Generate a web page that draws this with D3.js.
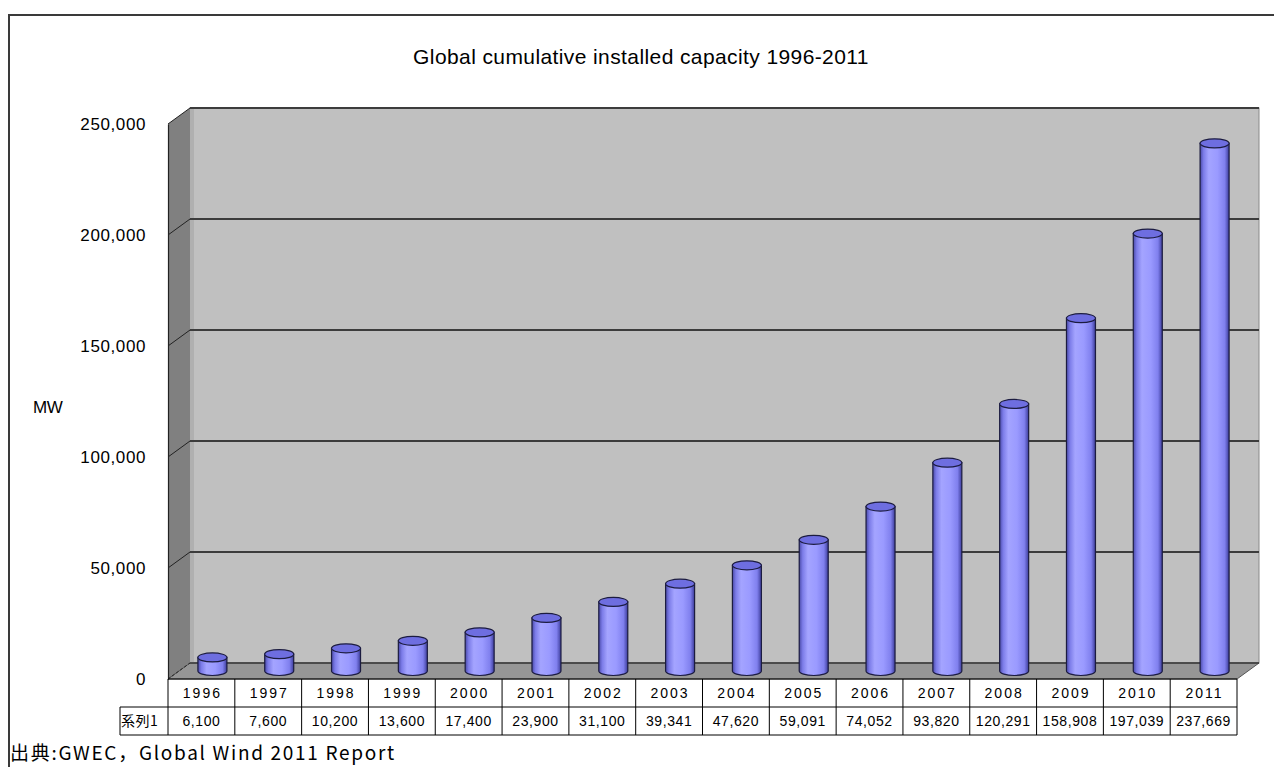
<!DOCTYPE html>
<html>
<head>
<meta charset="utf-8">
<script src="https://cdn.jsdelivr.net/npm/d3@7"></script>
<style>
  html, body { margin: 0; padding: 0; background: #fff; }
  svg { display: block; }
</style>
</head>
<body>
<div id="chart"></div>
<script>
// Global cumulative installed wind capacity (MW), GWEC Global Wind 2011 Report
var years = ["1996", "1997", "1998", "1999", "2000", "2001", "2002", "2003",
             "2004", "2005", "2006", "2007", "2008", "2009", "2010", "2011"];
var capacityMW = [6100, 7600, 10200, 13600, 17400, 23900, 31100, 39341,
                  47620, 59091, 74052, 93820, 120291, 158908, 197039, 237669];
var seriesName = "系列1";
var yTicks = [0, 50000, 100000, 150000, 200000, 250000];
var titleText = "Global cumulative installed capacity 1996-2011";
var yLabel = "MW";
var sourceText = "出典:GWEC，Global Wind 2011 Report";

(function () {
  var W = 1274, H = 767;
  var latin = "'Liberation Sans', Arial, sans-serif";
  var cjk = "'Noto Sans CJK JP', 'Liberation Sans', sans-serif";

  // front plane of the 3D box + depth offset of the back wall
  var fx0 = 168, fx1 = 1237, fy0 = 679, fyTop = 124;
  var dx = 22, dy = -16;

  var svg = d3.select("#chart").append("svg").attr("width", W).attr("height", H);

  // outer chart-area frame (runs off the right/bottom of the picture)
  svg.append("path").attr("d", "M9," + (H + 5) + "V15H" + (W + 5))
    .attr("fill", "none").attr("stroke", "#3a3a3a").attr("stroke-width", 2);

  svg.append("text").attr("x", 641).attr("y", 64).attr("text-anchor", "middle")
    .attr("font-family", latin).attr("font-size", "21px").attr("letter-spacing", "0.4px")
    .attr("fill", "#000").text(titleText);

  var x = d3.scaleBand().domain(years).range([fx0, fx1]).padding(0);
  var y = d3.scaleLinear().domain([0, 250000]).range([fy0, fyTop]);

  var defs = svg.append("defs");
  var grad = defs.append("linearGradient").attr("id", "cyl").attr("x1", 0).attr("x2", 1).attr("y1", 0).attr("y2", 0);
  [[0, "#4a4aa8"], [0.12, "#7c7ce8"], [0.3, "#a4a4ff"], [0.6, "#9a9aff"], [0.85, "#8080ee"], [1, "#3c3c9a"]]
    .forEach(function (s) { grad.append("stop").attr("offset", s[0]).attr("stop-color", s[1]); });

  var g = svg.append("g");

  // back wall
  g.append("rect").attr("x", fx0 + dx).attr("y", y(250000) + dy)
    .attr("width", fx1 - fx0).attr("height", y(0) - y(250000))
    .attr("fill", "#c0c0c0").attr("stroke", "#8a8a8a").attr("stroke-width", 1);
  g.append("rect").attr("x", fx0 + dx).attr("y", y(250000) + dy)
    .attr("width", 4).attr("height", y(0) - y(250000)).attr("fill", "#b0b0b0");
  // left side wall
  g.append("path")
    .attr("d", "M" + fx0 + "," + y(250000) + "L" + (fx0 + dx) + "," + (y(250000) + dy) +
      "L" + (fx0 + dx) + "," + (y(0) + dy) + "L" + fx0 + "," + y(0) + "Z")
    .attr("fill", "#808080");
  // floor
  g.append("path")
    .attr("d", "M" + fx0 + "," + y(0) + "L" + (fx0 + dx) + "," + (y(0) + dy) +
      "L" + (fx1 + dx) + "," + (y(0) + dy) + "L" + fx1 + "," + y(0) + "Z")
    .attr("fill", "#969696").attr("stroke", "#555").attr("stroke-width", 1);

  // gridlines on back wall + diagonals on side wall
  yTicks.forEach(function (t) {
    var yy = y(t);
    if (t > 0) {
      g.append("line").attr("x1", fx0 + dx).attr("x2", fx1 + dx).attr("y1", yy + dy).attr("y2", yy + dy)
        .attr("stroke", "#3c3c3c").attr("stroke-width", 2);
    }
    g.append("line").attr("x1", fx0).attr("y1", yy).attr("x2", fx0 + dx).attr("y2", yy + dy)
      .attr("stroke", "#222").attr("stroke-width", 1)
      .attr("stroke-dasharray", t === 0 ? "3,2" : null);
  });
  g.append("line").attr("x1", fx0 + dx).attr("x2", fx1 + dx).attr("y1", y(0) + dy).attr("y2", y(0) + dy)
    .attr("stroke", "#3c3c3c").attr("stroke-width", 1.5);

  // value axis
  var yAxis = d3.axisLeft(y).tickValues(yTicks).tickSize(0).tickPadding(22).tickFormat(d3.format(","));
  var ya = g.append("g").attr("transform", "translate(" + fx0 + ",0)").call(yAxis);
  ya.select(".domain").attr("stroke", "#222").attr("stroke-width", 1.2);
  ya.selectAll("text").attr("font-family", latin).attr("font-size", "17px")
    .attr("letter-spacing", "0.6px").attr("fill", "#000");

  svg.append("text").attr("x", 33).attr("y", 413).attr("font-family", latin)
    .attr("font-size", "17px").attr("letter-spacing", "-0.5px").attr("fill", "#000").text(yLabel);

  // cylinders, standing mid-depth
  var rx = 14.5, ry = 4.5;
  var cyl = g.selectAll(".cyl").data(capacityMW).enter().append("g").attr("class", "cyl");
  cyl.append("path")
    .attr("d", function (v, i) {
      var cx = x(years[i]) + x.bandwidth() / 2 + dx / 2;
      var by = y(0) + dy / 2, ty = y(v) + dy / 2;
      return "M" + (cx - rx) + "," + ty + "L" + (cx - rx) + "," + by +
        "A" + rx + "," + ry + " 0 0 0 " + (cx + rx) + "," + by + "L" + (cx + rx) + "," + ty + "Z";
    })
    .attr("fill", "url(#cyl)").attr("stroke", "#1c1c40").attr("stroke-width", 1.2);
  cyl.append("ellipse")
    .attr("cx", function (v, i) { return x(years[i]) + x.bandwidth() / 2 + dx / 2; })
    .attr("cy", function (v) { return y(v) + dy / 2; })
    .attr("rx", rx).attr("ry", ry)
    .attr("fill", "#6e6ee0").attr("stroke", "#1c1c40").attr("stroke-width", 1.2);

  // data table
  var rowH = 28, tableTop = y(0), labelX = 120;
  var t = svg.append("g").attr("font-family", latin).attr("font-size", "14px").attr("fill", "#000");
  var lineC = "#000";
  t.append("line").attr("x1", fx0).attr("x2", fx1).attr("y1", tableTop).attr("y2", tableTop).attr("stroke", lineC);
  t.append("line").attr("x1", labelX).attr("x2", fx1).attr("y1", tableTop + rowH).attr("y2", tableTop + rowH).attr("stroke", lineC);
  t.append("line").attr("x1", labelX).attr("x2", fx1).attr("y1", tableTop + 2 * rowH).attr("y2", tableTop + 2 * rowH).attr("stroke", lineC);
  t.append("line").attr("x1", labelX).attr("x2", labelX).attr("y1", tableTop + rowH).attr("y2", tableTop + 2 * rowH).attr("stroke", lineC);
  t.selectAll(".vl").data(years.concat(["end"])).enter().append("line")
    .attr("x1", function (d) { return d === "end" ? fx1 : x(d); })
    .attr("x2", function (d) { return d === "end" ? fx1 : x(d); })
    .attr("y1", tableTop).attr("y2", tableTop + 2 * rowH).attr("stroke", lineC);
  t.selectAll(".yr").data(years).enter().append("text")
    .attr("x", function (d) { return x(d) + x.bandwidth() / 2 + 1; })
    .attr("y", tableTop + 19).attr("text-anchor", "middle").attr("letter-spacing", "2px")
    .text(function (d) { return d; });
  t.selectAll(".vv").data(capacityMW).enter().append("text")
    .attr("x", function (d, i) { return x(years[i]) + x.bandwidth() / 2; })
    .attr("y", tableTop + rowH + 19).attr("text-anchor", "middle").attr("letter-spacing", "0.6px")
    .text(function (d) { return d3.format(",")(d); });
  t.append("text").attr("x", labelX + 1).attr("y", tableTop + rowH + 19)
    .attr("font-family", cjk).attr("font-size", "14px").attr("letter-spacing", "0.5px").text(seriesName);

  svg.append("text").attr("x", 10).attr("y", 760).attr("font-family", cjk)
    .attr("font-size", "19px").attr("letter-spacing", "1.7px").attr("fill", "#000").text(sourceText);
})();
</script>
</body>
</html>
